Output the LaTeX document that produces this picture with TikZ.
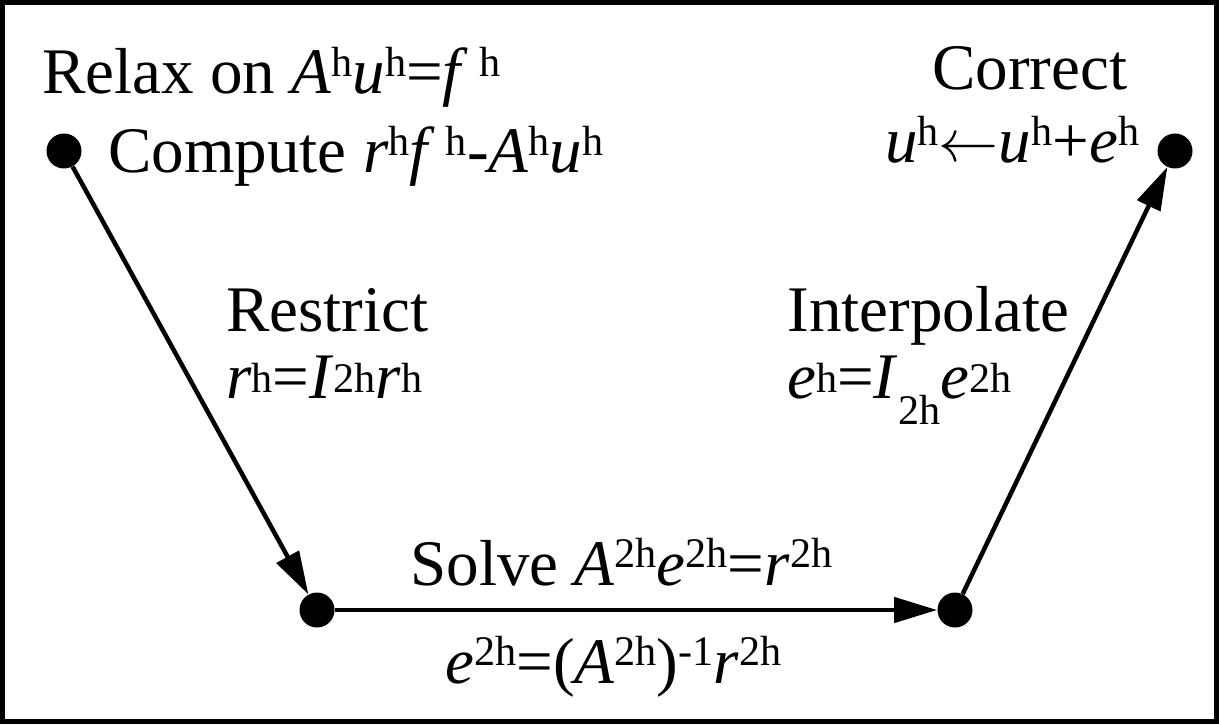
\documentclass[tikz,border=0pt]{standalone}
\usepackage{fontspec}
\setmainfont{Liberation Serif}[ItalicFont={Liberation Serif Italic}]
\usetikzlibrary{arrows.meta}
\tikzset{
  dot/.style={circle, fill=black, inner sep=0pt, minimum size=0.7cm},
  arr/.style={-{Triangle[length=0.86cm,width=0.5cm]}, line width=0.09cm},
  lbl/.style={inner sep=0pt, anchor=base west, font=\fontsize{37pt}{40pt}\selectfont},
  frame/.style={line width=0.1cm},
}
\newcommand{\mv}[1]{\textit{#1}}
\newcommand{\hsup}[2][10pt]{\raisebox{#1}{\fontsize{24pt}{24pt}\selectfont #2}}
\newcommand{\hsub}[1]{\raisebox{-15pt}{\fontsize{24pt}{24pt}\selectfont #1}}
\newcommand{\larr}{\raisebox{1pt}{\resizebox{1.2cm}{!}{$\leftarrow$}}}

\begin{document}
\begin{tikzpicture}
% Ramka
\draw[frame] (0.05,0.05) rectangle (24.33,14.43);

% Punkty cyklu
\node[dot] (fine)   at (1.28,11.46) {};
\node[dot] (coarsel) at (6.34,2.28) {};
\node[dot] (coarser) at (19.10,2.28) {};
\node[dot] (fineup) at (23.50,11.46) {};

\draw[arr] (fine) -- (coarsel);
\draw[arr] (coarsel) -- (coarser);
\draw[arr] (coarser) -- (fineup);

% Opisy
\node[lbl] (relax)   at (0.84,12.60) {Relax on \mv{A}\hsup[10pt]{h}\mv{u}\hsup[10pt]{h}=\mv{f}\,\hsup[10pt]{h}};
\node[lbl] (compute) at (2.16,11.02) {Compute \mv{r}\hsup[10pt]{h}\mv{f}\,\hsup[10pt]{h}-\mv{A}\hsup[10pt]{h}\mv{u}\hsup[10pt]{h}};
\node[lbl] (correct) at (18.64,12.68) {Correct};
\node[lbl] (update)  at (17.70,11.22) {\mv{u}\hsup{h}\larr\mv{u}\hsup{h}+\mv{e}\hsup{h}};
\node[lbl] (restrict) at (4.52,7.84) {Restrict};
\node[lbl] (rline)   at (4.52,6.52) {\mv{r}\hsup[3pt]{h}=\mv{I}\hsup[3pt]{2h}\mv{r}\hsup[3pt]{h}};
\node[lbl] (interp)  at (15.74,7.84) {Interpolate};
\node[lbl] (eline)   at (15.74,6.52) {\mv{e}\hsup[3pt]{h}=\mv{I}\hsub{2h}\mv{e}\hsup[3pt]{2h}};
\node[lbl] (solve)   at (8.20,2.78) {Solve \mv{A}\hsup{2h}\mv{e}\hsup{2h}=\mv{r}\hsup{2h}};
\node[lbl] (inverse) at (8.90,0.82) {\mv{e}\hsup{2h}=(\mv{A}\hsup{2h})\hsup{-1}\mv{r}\hsup{2h}};
\end{tikzpicture}
\end{document}
